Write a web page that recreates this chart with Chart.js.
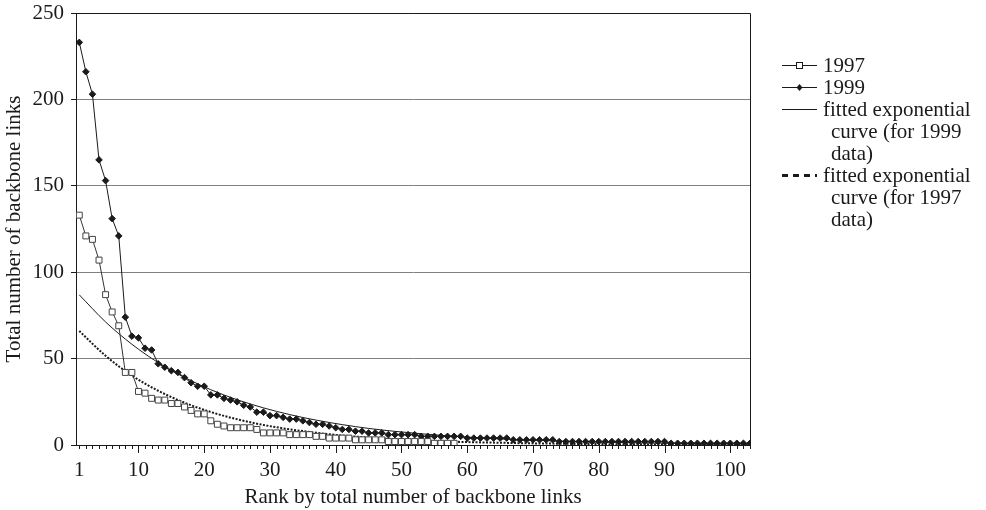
<!DOCTYPE html>
<html>
<head>
<meta charset="utf-8">
<script src="https://cdn.jsdelivr.net/npm/chart.js@4.4.1/dist/chart.umd.min.js"></script>
<style>
  html, body { margin: 0; padding: 0; background: #fff; }
  #wrap { width: 986px; height: 510px; position: relative; }
</style>
</head>
<body>
<div id="wrap"><canvas id="chart" width="986" height="510"></canvas></div>
<script>
// fonts / colours
const FONT = '"Liberation Serif", "Times New Roman", serif';
const INK = '#1a1a1a';

// backbone links per ISP, ranked
const links1997 = [
  133, 121, 119, 107, 87, 77, 69, 42, 42, 31,
  30, 27, 26, 26, 24, 24, 22, 20, 18, 18,
  14, 12, 11, 10, 10, 10, 10, 9, 7, 7,
  7, 7, 6, 6, 6, 6, 5, 5, 4, 4,
  4, 4, 3, 3, 3, 3, 3, 2, 2, 2,
  2, 2, 2, 2, 1, 1, 1, 1
];
const links1999 = [
  233, 216, 203, 165, 153, 131, 121, 74, 63, 62,
  56, 55, 47, 45, 43, 42, 39, 36, 34, 34,
  29, 29, 27, 26, 25, 23, 22, 19, 19, 17,
  17, 16, 15, 15, 14, 13, 12, 12, 11, 10,
  9, 9, 8, 8, 7, 7, 7, 6, 6, 6,
  6, 6, 5, 5, 5, 5, 5, 5, 5, 4,
  4, 4, 4, 4, 4, 4, 3, 3, 3, 3,
  3, 3, 3, 2, 2, 2, 2, 2, 2, 2,
  2, 2, 2, 2, 2, 2, 2, 2, 2, 2,
  1, 1, 1, 1, 1, 1, 1, 1, 1, 1,
  1, 1, 1
];

// fitted exponential curves, sampled every 4 ranks
const fitRanks = [1, 5, 9, 13, 17, 21, 25, 29, 33, 37, 41, 45, 49, 53, 57, 61, 65, 69, 73, 77, 81, 85, 89, 93, 97, 101, 103];
const fit1999 = [86.9, 71.2, 58.3, 47.7, 39.1, 32.0, 26.2, 21.5, 17.6, 14.4, 11.8, 9.6, 7.9, 6.5, 5.3, 4.3, 3.5, 2.9, 2.4, 1.9, 1.6, 1.3, 1.1, 0.9, 0.7, 0.6, 0.5];
const fit1997 = [66.0, 51.6, 40.2, 31.4, 24.5, 19.1, 14.9, 11.6, 9.1, 7.1, 5.5, 4.3, 3.4, 2.6, 2.0, 1.6, 1.3, 1.0, 0.8, 0.6, 0.5, 0.4, 0.3, 0.2, 0.2, 0.1, 0.1];

const xTickLabels = [1, 10, 20, 30, 40, 50, 60, 70, 80, 90, 100];
const yMax = 250;
const yStep = 50;

const legendRows = [
  { lines: ['1997'], kind: 'squares' },
  { lines: ['1999'], kind: 'diamonds' },
  { lines: ['fitted exponential', 'curve (for 1999', 'data)'], kind: 'solid' },
  { lines: ['fitted exponential', 'curve (for 1997', 'data)'], kind: 'dashed' }
];

const toPoints = (arr) => arr.map((v, i) => ({ x: i + 1, y: v }));
const toFitPoints = (arr) => arr.map((v, i) => ({ x: fitRanks[i], y: v }));

// frame around the plot + the small tick marks under the x axis
const framePlugin = {
  id: 'frame',
  afterDraw(chart) {
    const { ctx, chartArea: a, scales } = chart;
    ctx.save();
    ctx.strokeStyle = INK;
    ctx.lineWidth = 1;
    ctx.beginPath();
    ctx.moveTo(a.left, a.top + 0.5);
    ctx.lineTo(a.right + 0.5, a.top + 0.5);
    ctx.lineTo(a.right + 0.5, a.bottom);
    ctx.stroke();
    ctx.beginPath();
    for (let r = 1; r <= 103; r++) {
      const px = Math.round(scales.x.getPixelForValue(r)) + 0.5;
      const len = (r % 10 === 0) ? 8 : 4;
      ctx.moveTo(px, a.bottom);
      ctx.lineTo(px, a.bottom + len);
    }
    ctx.stroke();
    ctx.restore();
  }
};

// legend to the right, with wrapped labels
const legendPlugin = {
  id: 'sideLegend',
  afterDraw(chart) {
    const ctx = chart.ctx;
    const sx0 = 782, sx1 = 817, tx = 823, indent = 8, rowH = 22;
    let y = 65;
    ctx.save();
    ctx.font = '21px ' + FONT;
    ctx.textBaseline = 'middle';
    legendRows.forEach((row) => {
      ctx.strokeStyle = INK;
      ctx.fillStyle = INK;
      ctx.beginPath();
      if (row.kind === 'dashed') {
        ctx.lineWidth = 3;
        ctx.setLineDash([6, 5]);
      } else {
        ctx.lineWidth = 1;
        ctx.setLineDash([]);
      }
      ctx.moveTo(sx0, y + 0.5);
      ctx.lineTo(sx1, y + 0.5);
      ctx.stroke();
      ctx.setLineDash([]);
      const mx = (sx0 + sx1) / 2;
      if (row.kind === 'squares') {
        ctx.fillStyle = '#fff';
        ctx.fillRect(mx - 3, y - 2.5, 6, 6);
        ctx.lineWidth = 1;
        ctx.strokeRect(mx - 3, y - 2.5, 6, 6);
      } else if (row.kind === 'diamonds') {
        ctx.beginPath();
        ctx.moveTo(mx, y - 3);
        ctx.lineTo(mx + 3, y + 0.5);
        ctx.lineTo(mx, y + 4);
        ctx.lineTo(mx - 3, y + 0.5);
        ctx.closePath();
        ctx.fill();
      }
      ctx.fillStyle = INK;
      row.lines.forEach((t, i) => {
        ctx.fillText(t, i === 0 ? tx : tx + indent, y + 1);
        y += rowH;
      });
    });
    ctx.restore();
  }
};

new Chart(document.getElementById('chart'), {
  type: 'line',
  data: {
    datasets: [
      {
        label: '1997',
        data: toPoints(links1997),
        borderColor: '#333',
        borderWidth: 1,
        pointStyle: 'rect',
        pointRadius: 4.2,
        pointBackgroundColor: '#fff',
        pointBorderColor: '#444',
        pointBorderWidth: 1
      },
      {
        label: '1999',
        data: toPoints(links1999),
        borderColor: INK,
        borderWidth: 1,
        pointStyle: 'rectRot',
        pointRadius: 3.3,
        pointBackgroundColor: INK,
        pointBorderColor: INK,
        pointBorderWidth: 1
      },
      {
        label: 'fitted exponential curve (for 1999 data)',
        data: toFitPoints(fit1999),
        borderColor: INK,
        borderWidth: 1,
        pointRadius: 0,
        cubicInterpolationMode: 'monotone'
      },
      {
        label: 'fitted exponential curve (for 1997 data)',
        data: toFitPoints(fit1997),
        borderColor: INK,
        borderWidth: 2,
        borderDash: [2, 1.5],
        pointRadius: 0,
        cubicInterpolationMode: 'monotone'
      }
    ]
  },
  options: {
    responsive: false,
    animation: false,
    devicePixelRatio: 1,
    layout: { padding: { left: 0, right: 236, top: 13, bottom: 0 } },
    plugins: {
      legend: { display: false },
      tooltip: { enabled: false }
    },
    scales: {
      x: {
        type: 'linear',
        min: 0.5,
        max: 103,
        afterBuildTicks: (s) => { s.ticks = xTickLabels.map((v) => ({ value: v })); },
        afterFit: (s) => { s.height = 65; },
        grid: { display: false, drawTicks: false },
        border: { display: true, color: INK, width: 1 },
        ticks: {
          autoSkip: false,
          maxRotation: 0,
          padding: 13,
          color: INK,
          font: { family: FONT, size: 21 }
        },
        title: {
          display: true,
          text: 'Rank by total number of backbone links',
          color: INK,
          font: { family: FONT, size: 21 },
          padding: { top: 0, bottom: 0 }
        }
      },
      y: {
        min: 0,
        max: yMax,
        afterFit: (s) => { s.width = 76; s.paddingTop = 0; s.paddingBottom = 0; },
        ticks: {
          stepSize: yStep,
          padding: 7,
          color: INK,
          font: { family: FONT, size: 21, lineHeight: 0.5 }
        },
        grid: { color: '#808080', lineWidth: 1, tickLength: 5, tickColor: INK },
        border: { display: true, color: INK, width: 1 },
        title: {
          display: true,
          text: 'Total number of backbone links',
          color: INK,
          font: { family: FONT, size: 21 },
          padding: { top: 2, bottom: 0 }
        }
      }
    }
  },
  plugins: [framePlugin, legendPlugin]
});
</script>
</body>
</html>
